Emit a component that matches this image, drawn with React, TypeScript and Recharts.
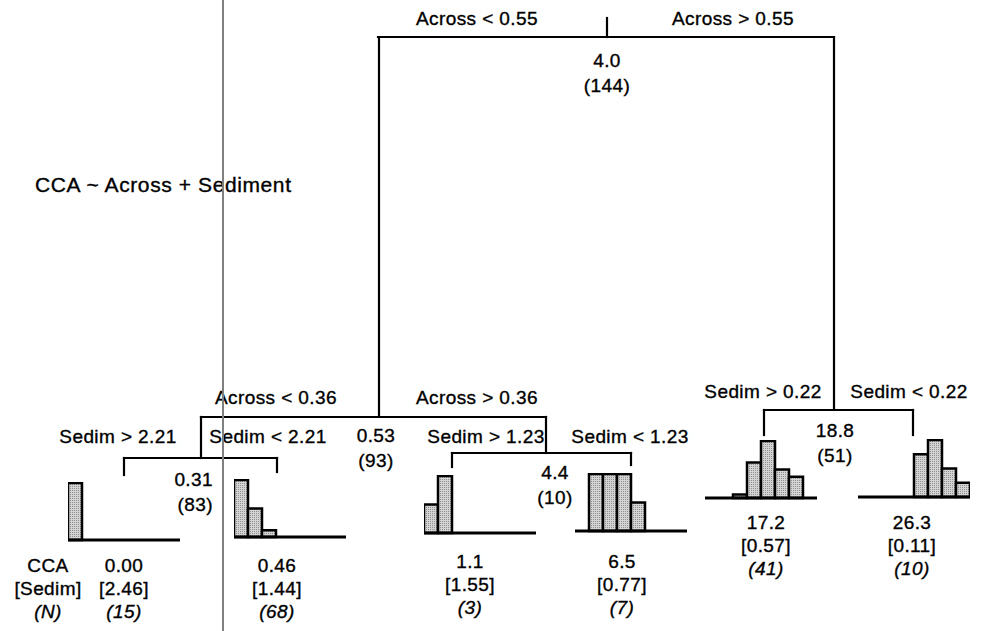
import React from "react";
import { BarChart, Bar, XAxis, YAxis, ReferenceLine } from "recharts";

// CCA classes used for every leaf histogram
const bins = ["0-4", "4-8", "8-12", "12-16", "16-20", "20-24", "24-28", "28-32"];

const leaf1Counts = [15, 0, 0, 0, 0, 0, 0, 0];
const leaf2Counts = [42, 21, 5, 0, 0, 0, 0, 0];
const leaf3Counts = [1, 2, 0, 0, 0, 0, 0, 0];
const leaf4Counts = [0, 2, 2, 2, 1, 0, 0, 0];
const leaf5Counts = [0, 0, 1, 10, 16, 8, 6, 0];
const leaf6Counts = [0, 0, 0, 0, 3, 4, 2, 1];

const leafMeans = ["0.00", "0.46", "1.1", "6.5", "17.2", "26.3"];
const leafSedim = ["[2.46]", "[1.44]", "[1.55]", "[0.77]", "[0.57]", "[0.11]"];
const leafN = ["(15)", "(68)", "(3)", "(7)", "(41)", "(10)"];

const nodeMeans = ["4.0", "0.53", "18.8", "0.31", "4.4"];
const nodeN = ["(144)", "(93)", "(51)", "(83)", "(10)"];

const splitLabels = [
  "Across < 0.55",
  "Across > 0.55",
  "Across < 0.36",
  "Across > 0.36",
  "Sedim > 0.22",
  "Sedim < 0.22",
  "Sedim > 2.21",
  "Sedim < 2.21",
  "Sedim > 1.23",
  "Sedim < 1.23",
];

const title = "CCA ~ Across + Sediment";

// layout (pixels)
const leafCounts = [leaf1Counts, leaf2Counts, leaf3Counts, leaf4Counts, leaf5Counts, leaf6Counts];
const leafLeft = [68, 234, 424, 575, 705, 858];
const leafBase = [540, 537, 533, 531, 498, 497];
const leafTextX = [124, 277, 470, 622, 766, 912];
const leafTextY = [572, 572, 568, 568, 529, 529];
const nodePos = [
  { x: 607, y: 67, anchor: "middle" },
  { x: 376, y: 442, anchor: "middle" },
  { x: 835, y: 437, anchor: "middle" },
  { x: 213, y: 486, anchor: "end" },
  { x: 555, y: 479, anchor: "middle" },
];
const splitPos = [
  [477, 25], [733, 25], [276, 404], [477, 404], [763, 398],
  [909, 398], [118, 443], [268, 443], [486, 443], [630, 443],
];
const edges = [
  // root
  [607, 18, 607, 37], [378, 37, 834, 37], [379, 37, 379, 417], [834, 37, 834, 410],
  // left subtree
  [201, 417, 546, 417], [201, 417, 201, 458], [124, 458, 277, 458], [124, 458, 124, 475], [277, 458, 277, 472],
  [546, 417, 546, 453], [452, 453, 631, 453], [452, 453, 452, 467], [631, 453, 631, 465],
  // right subtree
  [764, 410, 913, 410], [764, 410, 764, 435], [913, 410, 913, 435],
];

const font = "'Liberation Sans', Arial, Helvetica, sans-serif";

const Histogram = ({ counts, id, left, base }: { counts: number[]; id: string; left: number; base: number }) => {
  const data = bins.map((b, i) => ({ bin: b, count: counts[i] }));
  return (
    <div style={{ position: "absolute", left, top: base - 58 }}>
      <BarChart width={112} height={60} data={data} margin={{ top: 1, right: 0, bottom: 2, left: 0 }} barCategoryGap={0}>
        <defs>
          <pattern id={id} width="2" height="2" patternUnits="userSpaceOnUse">
            <rect width="2" height="2" fill="#d4d4d4" />
            <rect width="1" height="1" fill="#8f8f8f" />
          </pattern>
        </defs>
        <XAxis dataKey="bin" hide />
        <YAxis hide domain={[0, "dataMax"]} />
        <Bar dataKey="count" fill={`url(#${id})`} stroke="#000" strokeWidth={2.5} isAnimationActive={false} />
        <ReferenceLine y={0} stroke="#000" strokeWidth={3} />
      </BarChart>
    </div>
  );
};

const App = () => {
  return (
    <div style={{ position: "absolute", left: 0, top: 0, width: 981, height: 631, background: "#fff", overflow: "hidden" }}>
      <svg
        width={981}
        height={631}
        style={{ position: "absolute", left: 0, top: 0 }}
        fontFamily={font}
        fontSize={19}
        letterSpacing={0.4}
        stroke="#000"
        strokeWidth={0.35}
      >
        {edges.map((e, i) => (
          <line key={i} x1={e[0]} y1={e[1]} x2={e[2]} y2={e[3]} stroke="#000" strokeWidth={2.2} strokeLinecap="square" />
        ))}
        <text x={35} y={192} fill="#000" fontSize={21} letterSpacing={0.6}>{title}</text>
        {splitLabels.map((s, i) => (
          <text key={s} x={splitPos[i][0]} y={splitPos[i][1]} textAnchor="middle" fill="#000">{s}</text>
        ))}
        {nodeMeans.map((m, i) => (
          <g key={m}>
            <text x={nodePos[i].x} y={nodePos[i].y} textAnchor={nodePos[i].anchor} fill="#000">{m}</text>
            <text x={nodePos[i].x} y={nodePos[i].y + 25} textAnchor={nodePos[i].anchor} fill="#000">{nodeN[i]}</text>
          </g>
        ))}
        {leafMeans.map((m, i) => (
          <g key={m}>
            <text x={leafTextX[i]} y={leafTextY[i]} textAnchor="middle" fill="#000">{m}</text>
            <text x={leafTextX[i]} y={leafTextY[i] + 23} textAnchor="middle" fill="#000">{leafSedim[i]}</text>
            <text x={leafTextX[i]} y={leafTextY[i] + 46} textAnchor="middle" fontStyle="italic" fill="#000">{leafN[i]}</text>
          </g>
        ))}
        <text x={48} y={572} textAnchor="middle" fill="#000">CCA</text>
        <text x={48} y={595} textAnchor="middle" fill="#000">[Sedim]</text>
        <text x={48} y={618} textAnchor="middle" fontStyle="italic" fill="#000">(N)</text>
      </svg>
      {leafCounts.map((c, i) => (
        <Histogram key={i} counts={c} id={`stip${i}`} left={leafLeft[i]} base={leafBase[i]} />
      ))}
      <div style={{ position: "absolute", left: 222, top: 0, width: 1.5, height: 631, background: "#808080" }} />
    </div>
  );
};

export default App;
